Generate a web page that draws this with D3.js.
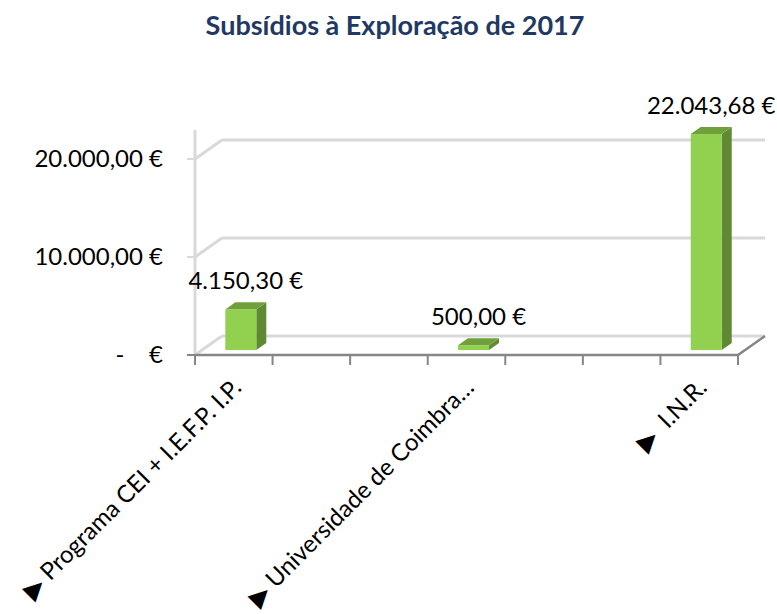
<!DOCTYPE html>
<html>
<head>
<meta charset="utf-8">
<script src="https://cdn.jsdelivr.net/npm/d3@7"></script>
<style>
  body { margin: 0; background: #fff; }
  svg { font-family: Lato, "Open Sans", sans-serif; }
</style>
</head>
<body>
<div id="chart"></div>
<script>
// chart data (blank slots are empty categories in the source sheet)
var categories = ["\u25B6 Programa CEI + I.E.F.P. I.P.", "", "", "\u25B6 Universidade de Coimbra\u2026", "", "", "\u25B6  I.N.R."];
var values = [4150.30, null, null, 500.00, null, null, 22043.68];
var yTicks = [0, 10000, 20000];
var title = "Subsídios à Exploração de 2017";

var width = 777, height = 614;
var depth = {dx: 27, dy: -19};   // 3d offset of the back wall
var barDepth = {from: 0.26, to: 0.63};

var svg = d3.select("#chart").append("svg")
  .attr("width", width)
  .attr("height", height);

var locale = d3.formatLocale({decimal: ",", thousands: ".", grouping: [3], currency: ["", " €"]});
var fmt = locale.format(",.2f");

var x = d3.scaleBand()
  .domain(d3.range(categories.length))
  .range([195, 738])
  .paddingInner(0).paddingOuter(0);

var y = d3.scaleLinear()
  .domain([0, 20000])
  .range([355, 159]);

var x0 = x.range()[0], x1 = x.range()[1];

// title
svg.append("text")
  .attr("x", 395)
  .attr("y", 35)
  .attr("text-anchor", "middle")
  .style("font-weight", "bold")
  .style("font-size", "27px")
  .style("fill", "#1f3864")
  .text(title);

var grid = svg.append("g");

// left edge of side wall
grid.append("line")
  .attr("x1", x0).attr("x2", x0)
  .attr("y1", 130).attr("y2", y(0))
  .style("stroke", "#d9d9d9").style("stroke-width", 3);

yTicks.forEach(function (t) {
  // back wall gridline
  grid.append("line")
    .attr("x1", x0 + depth.dx).attr("x2", x1 + depth.dx)
    .attr("y1", y(t) + depth.dy).attr("y2", y(t) + depth.dy)
    .style("stroke", "#d9d9d9").style("stroke-width", 3);
  // side wall diagonal
  grid.append("line")
    .attr("x1", x0).attr("x2", x0 + depth.dx)
    .attr("y1", y(t)).attr("y2", y(t) + depth.dy)
    .style("stroke", "#d9d9d9").style("stroke-width", 3);
  // tick
  grid.append("line")
    .attr("x1", x0 - 8).attr("x2", x0)
    .attr("y1", y(t)).attr("y2", y(t))
    .style("stroke", t === 0 ? "#868686" : "#d9d9d9").style("stroke-width", 2);
});

// y labels
svg.append("g").selectAll("text")
  .data(yTicks)
  .join("text")
  .attr("x", 163)
  .attr("y", function (d) { return y(d); })
  .attr("dy", "0.35em")
  .attr("text-anchor", "end")
  .attr("xml:space", "preserve")
  .style("font-size", "24px")
  .style("fill", "#000")
  .text(function (d) { return d === 0 ? "-    €" : fmt(d) + " €"; });

// floor front + right edge
svg.append("path")
  .attr("d", "M" + x0 + "," + y(0) + "L" + x1 + "," + y(0) + "L" + (x1 + depth.dx) + "," + (y(0) + depth.dy))
  .style("fill", "none")
  .style("stroke", "#868686")
  .style("stroke-width", 2.5);

// x ticks at category boundaries
var edges = d3.range(categories.length).map(function (i) { return x(i); }).concat([x1]);
svg.append("g").selectAll("line")
  .data(edges)
  .join("line")
  .attr("x1", function (d) { return d; }).attr("x2", function (d) { return d; })
  .attr("y1", y(0)).attr("y2", y(0) + 10)
  .style("stroke", "#868686").style("stroke-width", 2);

// bars
var bw = 31;
var rows = values.map(function (v, i) { return {i: i, v: v}; }).filter(function (d) { return d.v != null; });

var bars = svg.append("g").selectAll("g")
  .data(rows)
  .join("g");

function front(d) {
  var cx = x(d.i) + x.bandwidth() / 2 + depth.dx * barDepth.from;
  var base = y(0) + depth.dy * barDepth.from;
  var top = base - (y(0) - y(d.v));
  return {l: cx - bw / 2, r: cx + bw / 2, top: top, base: base};
}
var sdx = depth.dx * (barDepth.to - barDepth.from);
var sdy = depth.dy * (barDepth.to - barDepth.from);

bars.append("path")
  .attr("d", function (d) {
    var f = front(d);
    return "M" + f.r + "," + f.top + "L" + (f.r + sdx) + "," + (f.top + sdy) +
      "L" + (f.r + sdx) + "," + (f.base + sdy) + "L" + f.r + "," + f.base + "Z";
  })
  .style("fill", "#5f8a32");

bars.append("path")
  .attr("d", function (d) {
    var f = front(d);
    return "M" + f.l + "," + f.top + "L" + (f.l + sdx) + "," + (f.top + sdy) +
      "L" + (f.r + sdx) + "," + (f.top + sdy) + "L" + f.r + "," + f.top + "Z";
  })
  .style("fill", "#70a03c");

bars.append("rect")
  .attr("x", function (d) { return front(d).l; })
  .attr("y", function (d) { return front(d).top; })
  .attr("width", bw)
  .attr("height", function (d) { var f = front(d); return f.base - f.top; })
  .style("fill", "#92d050");

// value labels
bars.append("text")
  .attr("x", function (d) { var f = front(d); return (f.l + f.r + sdx) / 2; })
  .attr("y", function (d) { return front(d).top + sdy - 13; })
  .attr("text-anchor", "middle")
  .style("font-size", "24px")
  .style("fill", "#000")
  .text(function (d) { return fmt(d.v) + " €"; });

// category labels, rotated; leading triangle drawn a little larger
var catText = svg.append("g").selectAll("text")
  .data(categories.map(function (c, i) { return {c: c, i: i}; }).filter(function (d) { return d.c !== ""; }))
  .join("text")
  .attr("xml:space", "preserve")
  .attr("text-anchor", "end")
  .attr("transform", function (d) {
    return "translate(" + (x(d.i) + x.bandwidth() / 2 + 9) + "," + 389 + ") rotate(-45)";
  })
  .style("font-size", "24px")
  .style("fill", "#000");

catText.append("tspan")
  .style("font-family", "'DejaVu Sans'")
  .style("font-size", "25px")
  .attr("dy", "0.06em")
  .text(function (d) { return d.c.charAt(0); });
catText.append("tspan")
  .attr("dy", "-0.06em")
  .text(function (d) { return d.c.slice(1); });
</script>
</body>
</html>
